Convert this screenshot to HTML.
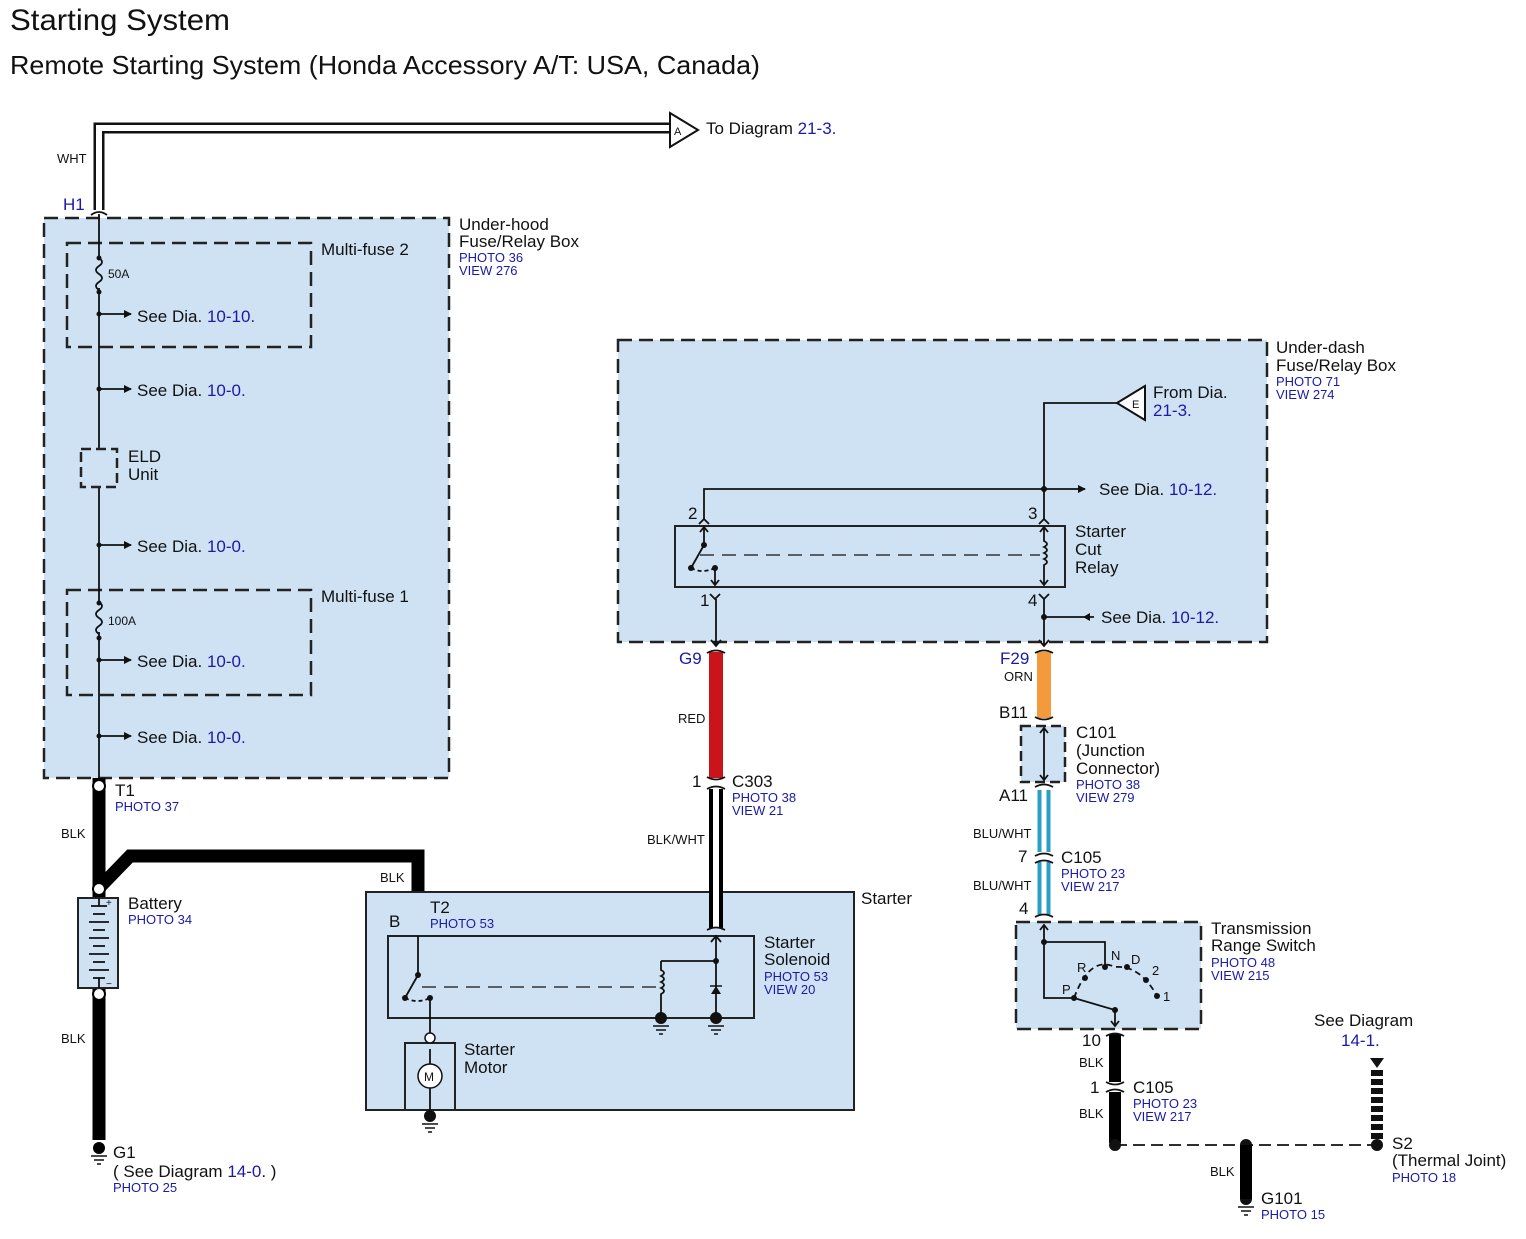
<!DOCTYPE html>
<html><head><meta charset="utf-8"><style>
html,body{margin:0;padding:0;background:#fff}
svg{display:block}
text{font-family:"Liberation Sans",Arial,sans-serif;fill:#111}
.b{fill:#1a1aa8}
.s{font-size:13px}
.m{font-size:17px}
.box{fill:#cfe2f3;stroke:#222;stroke-width:2.5;stroke-dasharray:14,7}
.dbox{fill:none;stroke:#222;stroke-width:2.5;stroke-dasharray:14,7}
.w{stroke:#111;stroke-width:1.8;fill:none}
</style></head><body>
<svg width="1526" height="1239" viewBox="0 0 1526 1239" xmlns="http://www.w3.org/2000/svg">
<defs>
<marker id="ar" markerWidth="8" markerHeight="8" refX="7" refY="4" orient="auto" markerUnits="userSpaceOnUse"><path d="M0,0 L8,4 L0,8 z" fill="#111"/></marker>
</defs>
<text x="10" y="30" font-size="30" textLength="220" lengthAdjust="spacingAndGlyphs">Starting System</text>
<text x="10" y="74" font-size="26" textLength="750" lengthAdjust="spacingAndGlyphs">Remote Starting System (Honda Accessory A/T: USA, Canada)</text>

<!-- Under-hood box -->
<rect class="box" x="44" y="218" width="405" height="560"/>
<rect class="dbox" x="67" y="243" width="244" height="104"/>
<rect class="dbox" x="67" y="590" width="244" height="105"/>
<text x="459" y="230" class="m">Under-hood</text>
<text x="459" y="247" class="m">Fuse/Relay Box</text>
<text x="459" y="262" class="s b">PHOTO 36</text>
<text x="459" y="275" class="s b">VIEW 276</text>
<text x="321" y="255" class="m">Multi-fuse 2</text>
<text x="321" y="602" class="m">Multi-fuse 1</text>
<line class="w" x1="99" y1="214" x2="99" y2="778"/>
<rect x="92" y="258" width="14" height="30" fill="#cfe2f3"/>
<path class="w" d="M99,258 q6,4 0,8 q-6,4 0,8 q6,4 0,8 q-6,4 0,8"/>
<rect x="92" y="602" width="14" height="30" fill="#cfe2f3"/>
<path class="w" d="M99,602 q6,4 0,8 q-6,4 0,8 q6,4 0,8 q-6,4 0,8"/>
<text x="108" y="278" font-size="12">50A</text>
<text x="108" y="625" font-size="12">100A</text>
<g fill="#111">
<circle cx="99" cy="258" r="2.5"/><circle cx="99" cy="292" r="2.5"/><circle cx="99" cy="314" r="2.5"/>
<circle cx="99" cy="389" r="2.5"/><circle cx="99" cy="545" r="2.5"/><circle cx="99" cy="603" r="2.5"/>
<circle cx="99" cy="638" r="2.5"/><circle cx="99" cy="660" r="2.5"/><circle cx="99" cy="736" r="2.5"/>
</g>
<g class="w" marker-end="url(#ar)">
<line x1="99" y1="314" x2="131" y2="314"/><line x1="99" y1="389" x2="131" y2="389"/>
<line x1="99" y1="545" x2="131" y2="545"/><line x1="99" y1="660" x2="131" y2="660"/>
<line x1="99" y1="736" x2="131" y2="736"/>
</g>
<text x="137" y="322" class="m">See Dia. <tspan class="b">10-10.</tspan></text>
<text x="137" y="396" class="m">See Dia. <tspan class="b">10-0.</tspan></text>
<text x="137" y="552" class="m">See Dia. <tspan class="b">10-0.</tspan></text>
<text x="137" y="667" class="m">See Dia. <tspan class="b">10-0.</tspan></text>
<text x="137" y="743" class="m">See Dia. <tspan class="b">10-0.</tspan></text>
<rect x="81" y="449" width="36" height="38" fill="#cfe2f3" stroke="#222" stroke-width="2.5" stroke-dasharray="10,5"/>
<text x="128" y="462" class="m">ELD</text><text x="128" y="480" class="m">Unit</text>

<!-- WHT wire -->
<path d="M99,210 V128 H670" fill="none" stroke="#111" stroke-width="11"/>
<path d="M99,210 V128 H670" fill="none" stroke="#fff" stroke-width="6"/>
<polygon points="670,113 698,130 670,147" fill="#fff" stroke="#111" stroke-width="2"/>
<text x="674" y="135" font-size="11">A</text>
<text x="706" y="134" class="m">To Diagram <tspan class="b">21-3.</tspan></text>
<text x="57" y="163" class="s">WHT</text>
<text x="63" y="210" class="m b">H1</text>
<path class="w" d="M91,215 q8,-6 16,0"/>

<!-- BLK thick wires -->
<path d="M99,778 V1140" stroke="#000" stroke-width="13" fill="none"/>
<path d="M99,888 L130,856 H418 V930" stroke="#000" stroke-width="13" fill="none"/>
<circle cx="99" cy="786" r="6" fill="#fff" stroke="#000" stroke-width="2"/>
<circle cx="99" cy="889" r="6" fill="#fff" stroke="#000" stroke-width="2"/>
<circle cx="99" cy="994" r="6" fill="#fff" stroke="#000" stroke-width="2"/>
<circle cx="418" cy="930" r="6" fill="#fff" stroke="#000" stroke-width="2"/>
<text x="115" y="796" class="m">T1</text>
<text x="115" y="811" class="s b">PHOTO 37</text>
<text x="61" y="838" class="s">BLK</text>
<text x="61" y="1043" class="s">BLK</text>
<text x="380" y="882" class="s">BLK</text>
<rect x="78" y="898" width="40" height="90" fill="#cfe2f3" stroke="#222" stroke-width="2"/>
<g stroke="#111" stroke-width="1.8">
<line x1="99" y1="898" x2="99" y2="906"/><line x1="91" y1="906" x2="107" y2="906"/>
<line x1="93" y1="914" x2="105" y2="914"/><line x1="89" y1="922" x2="109" y2="922"/>
<line x1="93" y1="930" x2="105" y2="930"/><line x1="89" y1="938" x2="109" y2="938"/>
<line x1="93" y1="946" x2="105" y2="946"/><line x1="89" y1="954" x2="109" y2="954"/>
<line x1="93" y1="962" x2="105" y2="962"/><line x1="89" y1="970" x2="109" y2="970"/>
<line x1="93" y1="978" x2="105" y2="978"/><line x1="99" y1="978" x2="99" y2="988"/>
</g>
<text x="106" y="906" font-size="10">+</text><text x="106" y="987" font-size="10">−</text>
<text x="128" y="909" class="m">Battery</text>
<text x="128" y="924" class="s b">PHOTO 34</text>
<circle cx="99" cy="1148" r="6" fill="#000"/>
<g stroke="#111" stroke-width="1.5"><line x1="91" y1="1156" x2="107" y2="1156"/><line x1="94" y1="1160" x2="104" y2="1160"/><line x1="97" y1="1164" x2="101" y2="1164"/></g>
<text x="113" y="1158" class="m">G1</text>
<text x="113" y="1177" class="m">( See Diagram <tspan class="b">14-0</tspan>. )</text>
<text x="113" y="1192" class="s b">PHOTO 25</text>

<!-- Starter -->
<rect x="366" y="892" width="488" height="218" fill="#cfe2f3" stroke="#222" stroke-width="2"/>
<rect x="388" y="936" width="366" height="82" fill="none" stroke="#222" stroke-width="2"/>
<rect x="405" y="1043" width="50" height="67" fill="none" stroke="#222" stroke-width="2"/>
<text x="861" y="904" class="m">Starter</text>
<text x="389" y="927" class="m">B</text>
<text x="430" y="913" class="m">T2</text>
<text x="430" y="928" class="s b">PHOTO 53</text>
<text x="764" y="948" class="m">Starter</text>
<text x="764" y="965" class="m">Solenoid</text>
<text x="764" y="981" class="s b">PHOTO 53</text>
<text x="764" y="994" class="s b">VIEW 20</text>
<text x="464" y="1055" class="m">Starter</text>
<text x="464" y="1073" class="m">Motor</text>
<g class="w">
<line x1="418" y1="936" x2="418" y2="975"/>
<line x1="418" y1="975" x2="405" y2="998"/>
<line x1="430" y1="998" x2="430" y2="1038"/>
<line x1="430" y1="1049" x2="430" y2="1110"/>
<path d="M405,998 q12,6 25,0" stroke-dasharray="4,3"/>
<line x1="422" y1="987" x2="658" y2="987" stroke-dasharray="14,8" stroke-width="1.2"/>
<path d="M661,961 H716 M661,961 V970 q6,3 0,6 q6,3 0,6 q6,3 0,6 q6,3 0,6 V1018 M716,935 V1018"/>
</g>
<polygon points="711,994 721,994 716,986" fill="#111"/><line x1="710" y1="986" x2="722" y2="986" stroke="#111" stroke-width="1.5"/>
<g fill="#111"><circle cx="418" cy="975" r="3"/><circle cx="405" cy="998" r="3"/><circle cx="430" cy="998" r="3"/><circle cx="716" cy="961" r="3"/>
<circle cx="661" cy="1018" r="6"/><circle cx="716" cy="1018" r="6"/><circle cx="430" cy="1116" r="6"/></g>
<circle cx="430" cy="1038" r="5" fill="#fff" stroke="#111" stroke-width="1.5"/>
<circle cx="430" cy="1076" r="12" fill="#fff" stroke="#111" stroke-width="1.5"/>
<text x="424" y="1081" font-size="12">M</text>
<g stroke="#111" stroke-width="1.5">
<line x1="653" y1="1026" x2="669" y2="1026"/><line x1="656" y1="1030" x2="666" y2="1030"/><line x1="659" y1="1034" x2="663" y2="1034"/>
<line x1="708" y1="1026" x2="724" y2="1026"/><line x1="711" y1="1030" x2="721" y2="1030"/><line x1="714" y1="1034" x2="718" y2="1034"/>
<line x1="422" y1="1124" x2="438" y2="1124"/><line x1="425" y1="1128" x2="435" y2="1128"/><line x1="428" y1="1132" x2="432" y2="1132"/>
</g>
<path class="w" d="M711,942 l5,-6 l5,6"/>

<!-- Under-dash -->
<rect class="box" x="618" y="340" width="649" height="302"/>
<text x="1276" y="353" class="m">Under-dash</text>
<text x="1276" y="371" class="m">Fuse/Relay Box</text>
<text x="1276" y="386" class="s b">PHOTO 71</text>
<text x="1276" y="399" class="s b">VIEW 274</text>
<polygon points="1117,403 1145,386 1145,420" fill="#fff" stroke="#111" stroke-width="2"/>
<text x="1132" y="408" font-size="11">E</text>
<text x="1153" y="398" class="m">From Dia.</text>
<text x="1153" y="416" class="m b">21-3.</text>
<path class="w" d="M1117,403 H1044 V520"/>
<path class="w" d="M704,520 V489 H1085" marker-end="url(#ar)"/>
<circle cx="1044" cy="489" r="3" fill="#111"/>
<text x="1099" y="495" class="m">See Dia. <tspan class="b">10-12.</tspan></text>
<rect x="675" y="526" width="390" height="61" fill="none" stroke="#222" stroke-width="2"/>
<text x="1075" y="537" class="m">Starter</text>
<text x="1075" y="555" class="m">Cut</text>
<text x="1075" y="573" class="m">Relay</text>
<text x="688" y="519" class="m">2</text><text x="1028" y="519" class="m">3</text>
<text x="700" y="606" class="m">1</text><text x="1028" y="606" class="m">4</text>
<g class="w">
<path d="M699,524 l5,-5 l5,5 M1039,524 l5,-5 l5,5 M710,594 l5,5 l5,-5 M1039,594 l5,5 l5,-5"/>
<line x1="704" y1="528" x2="704" y2="545"/><line x1="704" y1="545" x2="691" y2="568"/>
<path d="M691,568 q11,6 24,0" stroke-dasharray="4,3"/>
<line x1="715" y1="568" x2="715" y2="585"/>
<line x1="700" y1="555" x2="1040" y2="555" stroke-dasharray="14,8" stroke-width="1.2"/>
<path d="M1044,528 V541 q6,3 0,6 q6,3 0,6 q6,3 0,6 q6,3 0,6 V585"/>
<line x1="716" y1="599" x2="716" y2="645"/>
<line x1="1044" y1="599" x2="1044" y2="645"/>
</g>
<path class="w" d="M700,532 l4,-5 l4,5 M1040,532 l4,-5 l4,5 M711,580 l4,5 l4,-5 M1040,580 l4,5 l4,-5 M711,640 l5,6 l5,-6 M1039,640 l5,6 l5,-6"/>
<g fill="#111"><circle cx="704" cy="545" r="3"/><circle cx="691" cy="568" r="3"/><circle cx="715" cy="568" r="3"/><circle cx="1044" cy="617" r="3"/></g>
<line class="w" x1="1094" y1="617" x2="1044" y2="617"/>
<polygon points="1084,613 1091,617 1084,621" fill="#111" transform="rotate(180 1087 617)"/>
<text x="1101" y="623" class="m">See Dia. <tspan class="b">10-12.</tspan></text>

<!-- RED wire -->
<rect x="709" y="652" width="14" height="126" fill="#c8141a"/>
<path class="w" d="M707,653 q9,-5 18,0 M707,777 q9,5 18,0 M707,789 q9,-5 18,0"/>
<text x="679" y="664" class="m b">G9</text>
<text x="678" y="723" class="s">RED</text>
<text x="692" y="787" class="m">1</text>
<text x="732" y="787" class="m">C303</text>
<text x="732" y="802" class="s b">PHOTO 38</text>
<text x="732" y="815" class="s b">VIEW 21</text>
<text x="647" y="844" class="s">BLK/WHT</text>
<line x1="716" y1="789" x2="716" y2="928" stroke="#000" stroke-width="14"/>
<line x1="716" y1="789" x2="716" y2="928" stroke="#fff" stroke-width="6"/>
<path class="w" d="M707,930 q9,-5 18,0"/>

<!-- ORN wire -->
<rect x="1037" y="652" width="14" height="66" fill="#f39a3c"/>
<path class="w" d="M1035,653 q9,-5 18,0 M1035,717 q9,5 18,0 M1035,787 q9,-5 18,0"/>
<text x="1000" y="664" class="m b">F29</text>
<text x="1004" y="681" class="s">ORN</text>
<text x="999" y="718" class="m">B11</text>
<rect x="1021" y="726" width="44" height="56" fill="#cfe2f3" stroke="#222" stroke-width="2.5" stroke-dasharray="10,5"/>
<line class="w" x1="1044" y1="728" x2="1044" y2="780"/>
<path class="w" d="M1040,733 l4,-5 l4,5 M1040,775 l4,5 l4,-5"/>
<text x="1076" y="738" class="m">C101</text>
<text x="1076" y="756" class="m">(Junction</text>
<text x="1076" y="774" class="m">Connector)</text>
<text x="1076" y="789" class="s b">PHOTO 38</text>
<text x="1076" y="802" class="s b">VIEW 279</text>
<text x="999" y="801" class="m">A11</text>
<g>
<line x1="1044" y1="790" x2="1044" y2="852" stroke="#2a9fc4" stroke-width="13"/>
<line x1="1044" y1="790" x2="1044" y2="852" stroke="#fff" stroke-width="5"/>
<line x1="1044" y1="862" x2="1044" y2="915" stroke="#2a9fc4" stroke-width="13"/>
<line x1="1044" y1="862" x2="1044" y2="915" stroke="#fff" stroke-width="5"/>
</g>
<path class="w" d="M1035,856 q9,-5 18,0 M1035,863 q9,-5 18,0 M1035,917 q9,-5 18,0"/>
<text x="973" y="838" class="s">BLU/WHT</text>
<text x="1018" y="862" class="m">7</text>
<text x="1061" y="863" class="m">C105</text>
<text x="1061" y="878" class="s b">PHOTO 23</text>
<text x="1061" y="891" class="s b">VIEW 217</text>
<text x="973" y="890" class="s">BLU/WHT</text>
<text x="1019" y="914" class="m">4</text>

<!-- Trans range switch -->
<rect class="box" x="1016" y="922" width="185" height="107"/>
<text x="1211" y="934" class="m">Transmission</text>
<text x="1211" y="951" class="m">Range Switch</text>
<text x="1211" y="967" class="s b">PHOTO 48</text>
<text x="1211" y="980" class="s b">VIEW 215</text>
<g class="w">
<path d="M1044,925 V998 H1074 M1044,942 H1105 V967"/>
<path d="M1074,998 L1115,1010 V1026" />
<path d="M1074,998 Q1090,955 1115,967 Q1140,965 1157,996" stroke-dasharray="6,4"/>
<path d="M1040,930 l4,-5 l4,5 M1111,1021 l4,5 l4,-5"/>
</g>
<g fill="#111"><circle cx="1044" cy="942" r="3"/><circle cx="1074" cy="998" r="3"/><circle cx="1085" cy="978" r="3"/><circle cx="1105" cy="967" r="3"/><circle cx="1127" cy="967" r="3"/><circle cx="1146" cy="980" r="3"/><circle cx="1157" cy="996" r="3"/><circle cx="1115" cy="1010" r="3"/></g>
<text x="1062" y="994" font-size="13">P</text><text x="1077" y="972" font-size="13">R</text>
<text x="1111" y="960" font-size="13">N</text><text x="1131" y="964" font-size="13">D</text>
<text x="1152" y="975" font-size="13">2</text><text x="1163" y="1001" font-size="13">1</text>

<!-- Ground section -->
<line x1="1115" y1="1034" x2="1115" y2="1082" stroke="#000" stroke-width="12"/>
<line x1="1115" y1="1092" x2="1115" y2="1143" stroke="#000" stroke-width="12"/>
<path class="w" d="M1106,1036 q9,-5 18,0 M1106,1082 q9,5 18,0 M1106,1092 q9,-5 18,0"/>
<text x="1082" y="1046" class="m">10</text>
<text x="1079" y="1067" class="s">BLK</text>
<text x="1090" y="1093" class="m">1</text>
<text x="1133" y="1093" class="m">C105</text>
<text x="1133" y="1108" class="s b">PHOTO 23</text>
<text x="1133" y="1121" class="s b">VIEW 217</text>
<text x="1079" y="1118" class="s">BLK</text>
<line x1="1115" y1="1145" x2="1377" y2="1145" stroke="#111" stroke-width="1.8" stroke-dasharray="12,6"/>
<g fill="#111"><circle cx="1115" cy="1145" r="6"/><circle cx="1246" cy="1145" r="6"/><circle cx="1377" cy="1145" r="6"/><circle cx="1246" cy="1199" r="6"/></g>
<line x1="1246" y1="1145" x2="1246" y2="1199" stroke="#000" stroke-width="12"/>
<text x="1210" y="1176" class="s">BLK</text>
<g stroke="#111" stroke-width="1.5"><line x1="1238" y1="1207" x2="1254" y2="1207"/><line x1="1241" y1="1211" x2="1251" y2="1211"/><line x1="1244" y1="1215" x2="1248" y2="1215"/></g>
<text x="1261" y="1204" class="m">G101</text>
<text x="1261" y="1219" class="s b">PHOTO 15</text>
<polygon points="1370,1058 1384,1058 1377,1068" fill="#111"/>
<line x1="1377" y1="1070" x2="1377" y2="1140" stroke="#111" stroke-width="12" stroke-dasharray="6,3"/>
<text x="1314" y="1026" class="m">See Diagram</text>
<text x="1341" y="1046" class="m b">14-1.</text>
<text x="1392" y="1149" class="m">S2</text>
<text x="1392" y="1166" class="m">(Thermal Joint)</text>
<text x="1392" y="1182" class="s b">PHOTO 18</text>
</svg>
</body></html>
